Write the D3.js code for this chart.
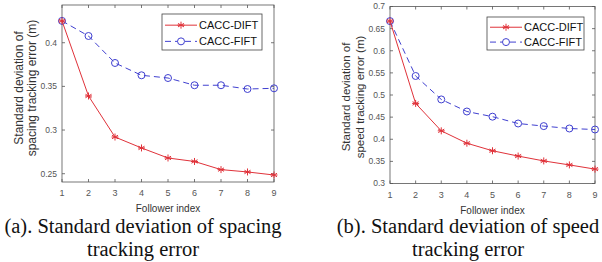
<!DOCTYPE html>
<html>
<head>
<meta charset="utf-8">
<script src="https://cdn.jsdelivr.net/npm/d3@7"></script>
<style>
  body { margin: 0; background: #fff; }
  svg { display: block; }
</style>
</head>
<body>
<script>
// follower index on x
const followers = [1, 2, 3, 4, 5, 6, 7, 8, 9];

// (a) spacing tracking error
const spacingDIFT = [0.425, 0.339, 0.292, 0.2795, 0.268, 0.264, 0.2547, 0.252, 0.2485];
const spacingFIFT = [0.425, 0.4077, 0.3768, 0.3627, 0.3596, 0.3513, 0.3513, 0.347, 0.3478];
const spacingTicks = [0.25, 0.3, 0.35, 0.4];

// (b) speed tracking error
const speedDIFT = [0.667, 0.481, 0.419, 0.391, 0.374, 0.362, 0.351, 0.342, 0.3325];
const speedFIFT = [0.667, 0.543, 0.49, 0.4627, 0.451, 0.4356, 0.4297, 0.4243, 0.422];
const speedTicks = [0.3, 0.35, 0.4, 0.45, 0.5, 0.55, 0.6, 0.65, 0.7];

const seriesNames = ['CACC-DIFT', 'CACC-FIFT'];

const W = 602, H = 262;
const RED = '#e0323a', BLUE = '#4040d0';
const SANS = 'Liberation Sans, Arial, sans-serif';

const svg = d3.select('body').append('svg')
    .attr('width', W)
    .attr('height', H);

function panel(o) {
    const x = d3.scaleLinear().domain([1, 9]).range([o.left, o.right]);
    const y = d3.scaleLinear().domain(o.ydom).range([o.bottom, o.top]);
    const g = svg.append('g');

    // box
    g.append('rect')
        .attr('x', o.left).attr('y', o.top)
        .attr('width', o.right - o.left).attr('height', o.bottom - o.top)
        .attr('fill', 'none').attr('stroke', '#555').attr('stroke-width', 0.8);

    // ticks, inward on all four sides
    const tk = 3;
    followers.forEach(f => {
        g.append('line').attr('x1', x(f)).attr('x2', x(f)).attr('y1', o.bottom).attr('y2', o.bottom - tk)
            .attr('stroke', '#555').attr('stroke-width', 0.8);
        g.append('line').attr('x1', x(f)).attr('x2', x(f)).attr('y1', o.top).attr('y2', o.top + tk)
            .attr('stroke', '#555').attr('stroke-width', 0.8);
        g.append('text').attr('x', x(f)).attr('y', o.bottom + 14)
            .attr('text-anchor', 'middle').attr('font-family', SANS).attr('font-size', 9)
            .attr('fill', '#555').text(f);
    });
    o.yticks.forEach(v => {
        g.append('line').attr('x1', o.left).attr('x2', o.left + tk).attr('y1', y(v)).attr('y2', y(v))
            .attr('stroke', '#555').attr('stroke-width', 0.8);
        g.append('line').attr('x1', o.right).attr('x2', o.right - tk).attr('y1', y(v)).attr('y2', y(v))
            .attr('stroke', '#555').attr('stroke-width', 0.8);
        g.append('text').attr('x', o.left - 5).attr('y', y(v)).attr('dy', '0.35em')
            .attr('text-anchor', 'end').attr('font-family', SANS).attr('font-size', 8.5)
            .attr('fill', '#555').text(v);
    });

    // axis labels
    g.append('text').attr('x', (o.left + o.right) / 2).attr('y', o.bottom + 30)
        .attr('text-anchor', 'middle').attr('font-family', SANS).attr('font-size', 10)
        .attr('fill', '#333').text('Follower index');
    o.ylabel.forEach((t, i) => {
        g.append('text')
            .attr('transform', `translate(${o.ylabelX[i]},${o.ylabelY}) rotate(-90)`)
            .attr('text-anchor', 'middle').attr('dy', '0.35em')
            .attr('font-family', SANS).attr('font-size', o.ylabelSize)
            .attr('fill', '#333').text(t);
    });

    const line = d3.line().x((d, i) => x(followers[i])).y(d => y(d));

    // FIFT blue dashed with circles
    g.append('path').datum(o.fift).attr('d', line)
        .attr('fill', 'none').attr('stroke', BLUE).attr('stroke-width', 1)
        .attr('stroke-dasharray', '6,4');
    g.selectAll('.c').data(o.fift).enter().append('circle')
        .attr('cx', (d, i) => x(followers[i])).attr('cy', d => y(d)).attr('r', 3.5)
        .attr('fill', 'none').attr('stroke', BLUE).attr('stroke-width', 1);

    // DIFT red solid with asterisks
    g.append('path').datum(o.dift).attr('d', line)
        .attr('fill', 'none').attr('stroke', RED).attr('stroke-width', 1);
    o.dift.forEach((d, i) => star(g, x(followers[i]), y(d)));

    // legend
    const L = o.legend;
    g.append('rect').attr('x', L.x).attr('y', L.y).attr('width', L.w).attr('height', L.h)
        .attr('fill', '#fff').attr('stroke', '#444').attr('stroke-width', 0.8);
    const rows = [L.y + L.h * 0.31, L.y + L.h * 0.76];
    // row 1
    g.append('line').attr('x1', L.x + 3).attr('x2', L.x + 35).attr('y1', rows[0]).attr('y2', rows[0])
        .attr('stroke', RED).attr('stroke-width', 1);
    star(g, L.x + 19, rows[0]);
    // row 2
    g.append('line').attr('x1', L.x + 3).attr('x2', L.x + 35).attr('y1', rows[1]).attr('y2', rows[1])
        .attr('stroke', BLUE).attr('stroke-width', 1).attr('stroke-dasharray', '6,4');
    g.append('circle').attr('cx', L.x + 19).attr('cy', rows[1]).attr('r', 3.5)
        .attr('fill', '#fff').attr('stroke', BLUE).attr('stroke-width', 1);
    seriesNames.forEach((s, i) => {
        g.append('text').attr('x', L.x + 37).attr('y', rows[i]).attr('dy', '0.36em')
            .attr('font-family', SANS).attr('font-size', 11).attr('fill', '#111').text(s);
    });

    // caption
    o.caption.forEach((t, i) => {
        g.append('text').attr('x', o.capX).attr('y', 233 + i * 23)
            .attr('text-anchor', 'middle')
            .attr('font-family', 'Liberation Serif, Times New Roman, serif')
            .attr('font-size', 20.5).attr('fill', '#111').text(t);
    });
}

function star(g, cx, cy) {
    const r = 3.5;
    [0, 60, 120].forEach(a => {
        const rad = a * Math.PI / 180;
        g.append('line')
            .attr('x1', cx - r * Math.sin(rad)).attr('y1', cy - r * Math.cos(rad))
            .attr('x2', cx + r * Math.sin(rad)).attr('y2', cy + r * Math.cos(rad))
            .attr('stroke', RED).attr('stroke-width', 1);
    });
    g.append('line').attr('x1', cx - r).attr('x2', cx + r).attr('y1', cy).attr('y2', cy)
        .attr('stroke', RED).attr('stroke-width', 1);
}

panel({
    left: 62, right: 274, top: 5, bottom: 182,
    ydom: [0.2405, 0.4432], yticks: spacingTicks,
    dift: spacingDIFT, fift: spacingFIFT,
    ylabel: ['Standard deviation of', 'spacing tracking error (m)'],
    ylabelX: [19, 32], ylabelY: 88, ylabelSize: 12,
    legend: { x: 162, y: 14, w: 100, h: 36 },
    caption: ['(a). Standard deviation of spacing', 'tracking error'], capX: 143
});

panel({
    left: 390, right: 595, top: 6.5, bottom: 183.5,
    ydom: [0.3, 0.7], yticks: speedTicks,
    dift: speedDIFT, fift: speedFIFT,
    ylabel: ['Standard deviation of', 'speed tracking error (m)'],
    ylabelX: [346, 360], ylabelY: 97, ylabelSize: 11.5,
    legend: { x: 487, y: 17, w: 97, h: 33 },
    caption: ['(b). Standard deviation of speed', 'tracking error'], capX: 468
});
</script>
</body>
</html>
